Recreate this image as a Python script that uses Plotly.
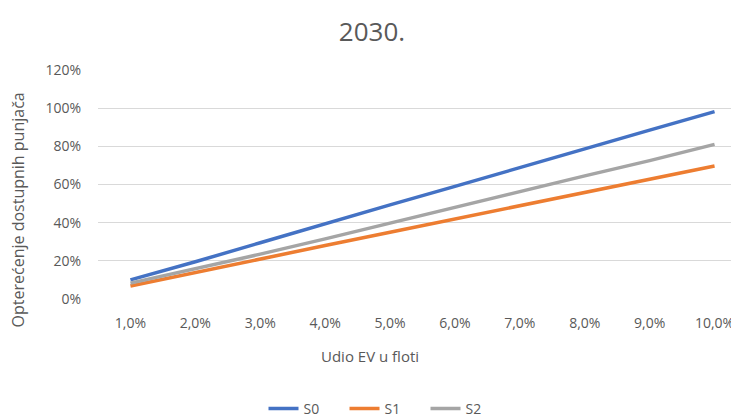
import plotly.graph_objects as go

# shares of EV in fleet (categories)
udio_ev = ["1,0%", "2,0%", "3,0%", "4,0%", "5,0%", "6,0%", "7,0%", "8,0%", "9,0%", "10,0%"]

# charger load per scenario, in %
s0 = [10.0, 19.5, 29.5, 39.5, 49.3, 59.0, 69.0, 78.7, 88.5, 98.2]
s1 = [6.8, 14.0, 21.0, 28.0, 35.0, 42.0, 48.7, 56.0, 63.0, 69.7]
s2 = [8.3, 15.8, 23.5, 31.5, 39.8, 48.0, 56.0, 64.5, 72.5, 81.0]

y_ticks = [0, 20, 40, 60, 80, 100, 120]

font = "Open Sans"
grey_txt = "#595959"
x = list(range(1, len(udio_ev) + 1))

# page body has an 8px margin, so layout is shifted up/left by 8
W, H = 739, 419
off = 8

fig = go.Figure()
for name, vals, col in [("S0", s0, "#4472C4"), ("S1", s1, "#ED7D31"), ("S2", s2, "#A5A5A5")]:
    fig.add_trace(go.Scatter(x=x, y=vals, name=name, mode="lines",
                             line=dict(color=col, width=3.5)))

pl, pt, pb = 97.6 - off, 70 - off, 299 - off
pw, ph = W - pl, pb - pt

fig.update_layout(
    width=W, height=H,
    paper_bgcolor="white", plot_bgcolor="white",
    margin=dict(l=pl, r=0, t=pt, b=H - pb, autoexpand=False),
    font=dict(family=font, color=grey_txt, size=14),
    title=dict(text="2030.", x=(372 - off) / W, xref="container", xanchor="center",
               y=1 - (32 - off) / H, yref="container", yanchor="middle",
               font=dict(size=26, color=grey_txt)),
    legend=dict(orientation="h", xref="container", yref="container",
                x=(385 - off) / W, xanchor="center", y=1 - (409 - off) / H, yanchor="middle",
                font=dict(size=14, color=grey_txt), entrywidth=36,
                itemwidth=30),
    annotations=[
        dict(text="Udio EV u floti", xref="paper", yref="paper",
             x=(369.5 - off - pl) / pw, y=-(356 - 299) / ph,
             showarrow=False, font=dict(size=15, color=grey_txt),
             xanchor="center", yanchor="middle"),
        dict(text="Opterećenje dostupnih punjača", xref="paper", yref="paper",
             x=(18 - off - pl) / pw, y=(299 - 210) / ph, textangle=-90,
             showarrow=False, font=dict(size=16, color=grey_txt),
             xanchor="center", yanchor="middle"),
    ],
)

fig.update_xaxes(range=[0.5, 10.5], tickvals=x, ticktext=udio_ev,
                 showgrid=False, zeroline=False, showline=False,
                 ticks="", ticklabelstandoff=14, tickfont=dict(size=14))
fig.update_yaxes(range=[0, 120], tickvals=y_ticks,
                 ticktext=[f"{v}%" for v in y_ticks],
                 showgrid=True, gridcolor="#D9D9D9", gridwidth=1,
                 zeroline=False, showline=False, ticks="",
                 ticklabelstandoff=16, tickfont=dict(size=14))

fig.write_html("out.html")
